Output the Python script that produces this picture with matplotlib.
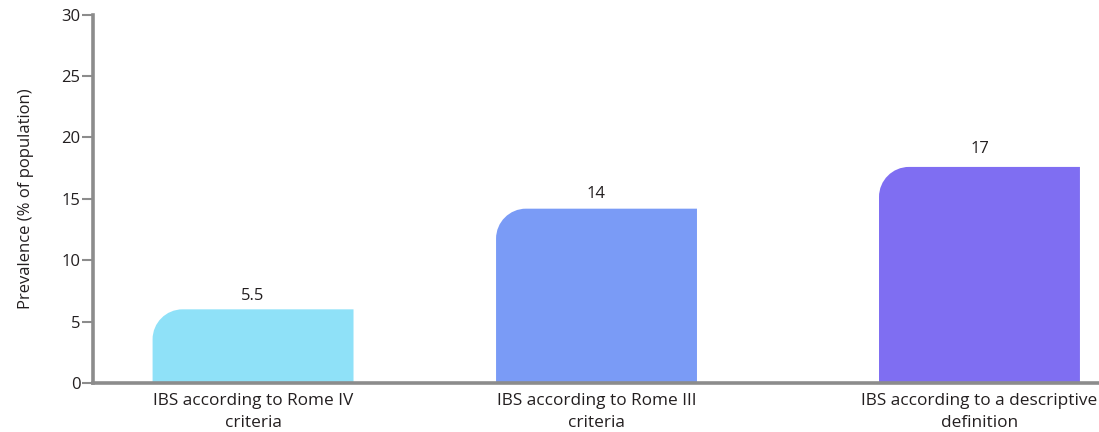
import matplotlib
matplotlib.use("Agg")
import matplotlib.pyplot as plt
from matplotlib.path import Path
from matplotlib.patches import PathPatch

# ---- data ----
categories = ["IBS according to Rome IV\ncriteria",
              "IBS according to Rome III\ncriteria",
              "IBS according to a descriptive\ndefinition"]
bar_heights = [6.0, 14.2, 17.6]          # drawn heights
value_labels = ["5.5", "14", "17"]        # printed values
colors = ["#8FE1F8", "#7A9BF6", "#7F6EF2"]
yticks = [0, 5, 10, 15, 20, 25, 30]

# ---- layout ----
positions = [0.0, 1.0, 2.115]
bar_width = 0.585
corner_px = 30
label_offsets_pt = [4, 5, 7]
axis_color = "#8C8C8C"
text_color = "#231F20"

plt.rcParams['font.family'] = ['Open Sans', 'DejaVu Sans']

W, H, DPI = 10.99, 4.32, 100
fig = plt.figure(figsize=(W, H), dpi=DPI)
ax_left, ax_right = 93 / 1099, 1.0
ax_bottom, ax_top = (432 - 383) / 432, (432 - 14.7) / 432
ax = fig.add_axes([ax_left, ax_bottom, ax_right - ax_left, ax_top - ax_bottom])

xlim = (-0.466, 2.463)
ylim = (0, 30)
ax.set_xlim(*xlim)
ax.set_ylim(*ylim)

ax_w_px = (ax_right - ax_left) * W * DPI
ax_h_px = (ax_top - ax_bottom) * H * DPI
rx = corner_px * (xlim[1] - xlim[0]) / ax_w_px
ry = corner_px * (ylim[1] - ylim[0]) / ax_h_px
k = 0.5523

for x, h, c, lab, off in zip(positions, bar_heights, colors, value_labels, label_offsets_pt):
    x0, x1 = x - bar_width / 2, x + bar_width / 2
    verts = [(x0, 0), (x0, h - ry),
             (x0, h - ry + k * ry), (x0 + rx - k * rx, h), (x0 + rx, h),
             (x1, h), (x1, 0), (x0, 0)]
    codes = [Path.MOVETO, Path.LINETO,
             Path.CURVE4, Path.CURVE4, Path.CURVE4,
             Path.LINETO, Path.LINETO, Path.CLOSEPOLY]
    ax.add_patch(PathPatch(Path(verts, codes), facecolor=c, edgecolor='none', zorder=1))
    ax.annotate(lab, (x, h), xytext=(0, off), textcoords='offset points',
                ha='center', va='bottom', fontsize=12, color=text_color)

for s in ['top', 'right']:
    ax.spines[s].set_visible(False)
for s in ['left', 'bottom']:
    ax.spines[s].set_color(axis_color)
    ax.spines[s].set_linewidth(2.6)
    ax.spines[s].set_zorder(3)

ax.set_yticks(yticks)
ax.set_yticklabels([str(t) for t in yticks], fontsize=12, color=text_color)
ax.tick_params(axis='y', length=8, width=1.5, color=axis_color, pad=1)
ax.set_xticks(positions)
ax.set_xticklabels(categories, fontsize=12.4, color=text_color, linespacing=1.5)
ax.tick_params(axis='x', length=0, pad=7)

ax.set_ylabel("Prevalence (% of population)", fontsize=12, color=text_color, labelpad=20)

fig.savefig("out.png", dpi=DPI)
